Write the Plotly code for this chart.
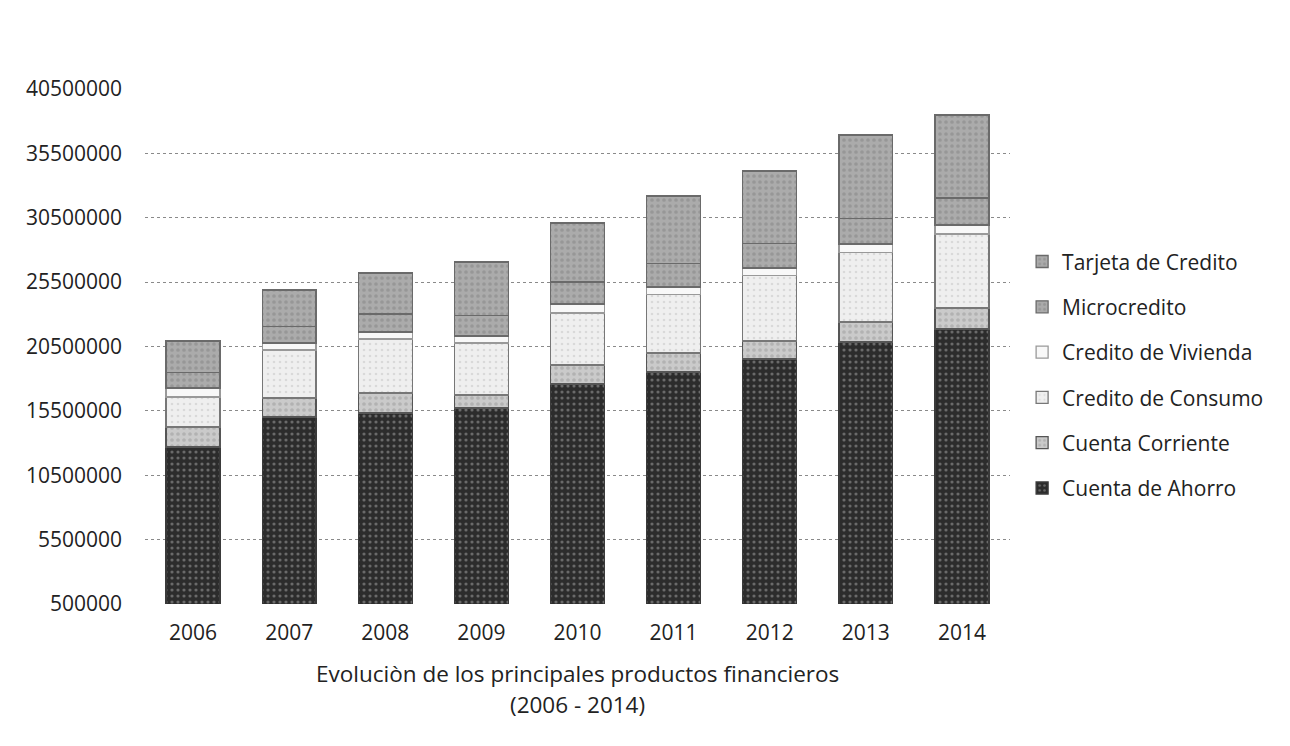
import plotly.graph_objects as go

years = ["2006", "2007", "2008", "2009", "2010", "2011", "2012", "2013", "2014"]

cuenta_ahorro = [12690000, 15020000, 15330000, 15720000, 17590000, 18520000, 19530000, 20850000, 21860000]
cuenta_corriente = [1560000, 1480000, 1560000, 1010000, 1470000, 1470000, 1400000, 1550000, 1630000]
credito_consumo = [2330000, 3730000, 4190000, 4040000, 4040000, 4530000, 5070000, 5410000, 5750000]
credito_vivienda = [700000, 540000, 550000, 550000, 700000, 600000, 600000, 650000, 700000]
microcredito = [1200000, 1300000, 1400000, 1600000, 1700000, 1800000, 1900000, 2000000, 2100000]
tarjeta_credito = [2450000, 2820000, 3180000, 4140000, 4590000, 5270000, 5630000, 6470000, 6440000]

tick_vals = [500000, 5500000, 10500000, 15500000, 20500000, 25500000, 30500000, 35500000, 40500000]
tick_text = [str(v) for v in tick_vals]

# name, values, fill, pattern shape, pattern colour, solidity, outline colour, legend rank
series = [
    ("Cuenta de Ahorro", cuenta_ahorro, "#2c2c2c", ".", "#a8a8a8", 0.22, "#3a3a3a", 6),
    ("Cuenta Corriente", cuenta_corriente, "#cacaca", ".", "#9a9a9a", 0.3, "#555555", 5),
    ("Credito de Consumo", credito_consumo, "#efefef", ".", "#c4c4c4", 0.15, "#777777", 4),
    ("Credito de Vivienda", credito_vivienda, "#f8f8f8", "", "#cccccc", 0.1, "#999999", 3),
    ("Microcredito", microcredito, "#ababab", ".", "#848484", 0.3, "#6a6a6a", 2),
    ("Tarjeta de Credito", tarjeta_credito, "#ababab", ".", "#848484", 0.3, "#6a6a6a", 1),
]

FONT = "Open Sans"
fig = go.Figure()
for name, vals, col, shape, fg, sol, lc, rank in series:
    fig.add_trace(go.Bar(
        x=years, y=vals, name=name, legendgroup=name, legendrank=rank,
        marker=dict(color=col, line=dict(color=lc, width=1.3),
                    pattern=dict(shape=shape, fgcolor=fg, size=6, solidity=sol)),
    ))

fig.update_layout(
    width=1290, height=746,
    barmode="stack", bargap=0.44,
    paper_bgcolor="white", plot_bgcolor="white",
    margin=dict(l=137, r=288, t=81, b=150),
    font=dict(family=FONT, size=21, color="#222222"),
    showlegend=True,
    legend=dict(x=1.014, xanchor="left", y=0.445, yanchor="middle",
                traceorder="grouped", tracegroupgap=15,
                font=dict(family=FONT, size=21, color="#222222"),
                itemwidth=30),
    xaxis=dict(showline=False, showgrid=False, ticks="", ticklabelstandoff=14,
               tickfont=dict(size=21)),
    yaxis=dict(range=[500000, 40500000], tickvals=tick_vals, ticktext=tick_text,
               showgrid=True, gridcolor="#8a8a8a", griddash="dot", gridwidth=1,
               zeroline=False, showline=False, ticklabelstandoff=22,
               tickfont=dict(size=21)),
    annotations=[
        dict(text="Evoluciòn de los principales productos financieros",
             x=0.5, xref="paper", y=-0.134, yref="paper", yanchor="middle",
             showarrow=False, font=dict(family=FONT, size=22.5, color="#222222")),
        dict(text="(2006 - 2014)",
             x=0.5, xref="paper", y=-0.196, yref="paper", yanchor="middle",
             showarrow=False, font=dict(family=FONT, size=22.5, color="#222222")),
    ],
)

fig.write_html("out.html")
